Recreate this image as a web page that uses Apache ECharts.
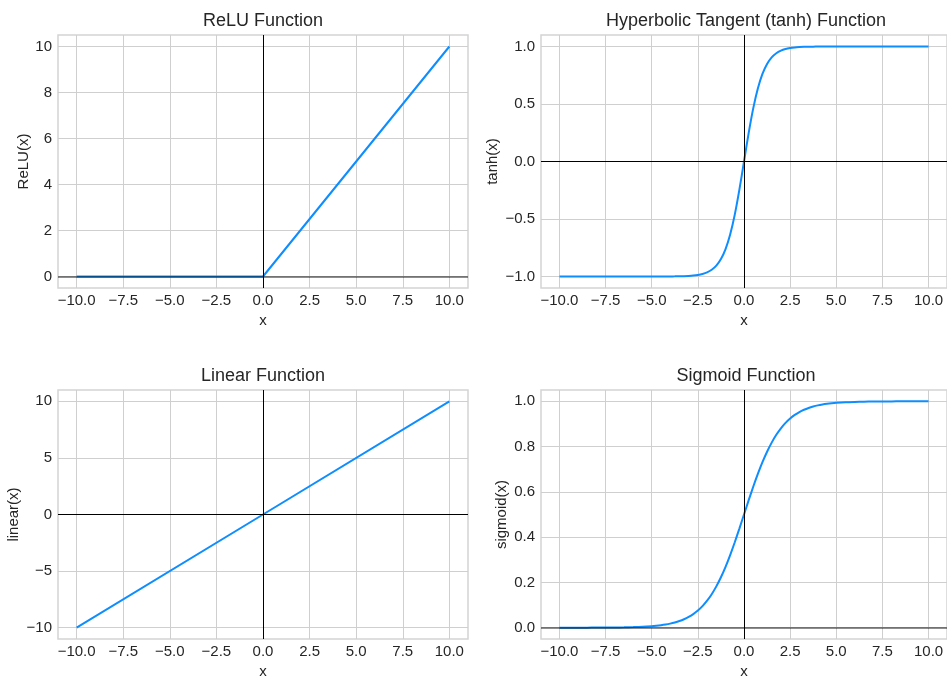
<!DOCTYPE html>
<html>
<head>
<meta charset="utf-8">
<title>Activation Functions</title>
<script src="https://cdn.jsdelivr.net/npm/echarts@6/dist/echarts.min.js"></script>
<style>
  html, body { margin: 0; padding: 0; background: #fff; }
  #main { width: 947px; height: 680px; }
</style>
</head>
<body>
<div id="main"></div>
<script>
// x positions and values
var lineX = [-10, 0, 10];
var reluY = [0, 0, 10];
var linearY = [-10, 0, 10];

var curveX = [-10, -9.5, -9, -8.5, -8, -7.5, -7, -6.5, -6, -5.5, -5,
    -4.75, -4.5, -4.25, -4, -3.75, -3.5, -3.25, -3, -2.75, -2.5, -2.25, -2, -1.75, -1.5, -1.25, -1, -0.75, -0.5, -0.25,
    0,
    0.25, 0.5, 0.75, 1, 1.25, 1.5, 1.75, 2, 2.25, 2.5, 2.75, 3, 3.25, 3.5, 3.75, 4, 4.25, 4.5, 4.75,
    5, 5.5, 6, 6.5, 7, 7.5, 8, 8.5, 9, 9.5, 10];
var tanhY = [-1, -1, -1, -1, -1, -1, -1, -1, -1, -1, -0.9999,
    -0.9999, -0.9998, -0.9996, -0.9993, -0.9989, -0.9982, -0.997, -0.995, -0.9919, -0.9866, -0.978, -0.964, -0.9414, -0.9052, -0.8483, -0.7616, -0.6351, -0.4621, -0.2449,
    0,
    0.2449, 0.4621, 0.6351, 0.7616, 0.8483, 0.9052, 0.9414, 0.964, 0.978, 0.9866, 0.9919, 0.995, 0.997, 0.9982, 0.9989, 0.9993, 0.9996, 0.9998, 0.9999,
    0.9999, 1, 1, 1, 1, 1, 1, 1, 1, 1, 1];
var sigmoidY = [0.00005, 0.00007, 0.00012, 0.0002, 0.00034, 0.00055, 0.00091, 0.0015, 0.00247, 0.00407, 0.00669,
    0.0086, 0.011, 0.0141, 0.018, 0.023, 0.0293, 0.0373, 0.0474, 0.0601, 0.0759, 0.0953, 0.1192, 0.148, 0.1824, 0.2227, 0.2689, 0.3208, 0.3775, 0.4378,
    0.5,
    0.5622, 0.6225, 0.6792, 0.7311, 0.7773, 0.8176, 0.852, 0.8808, 0.9047, 0.9241, 0.9399, 0.9526, 0.9627, 0.9707, 0.977, 0.982, 0.9859, 0.989, 0.9914,
    0.9933, 0.9959, 0.9975, 0.9985, 0.9991, 0.9994, 0.9997, 0.9998, 0.9999, 0.9999, 1];

// tick values
var xTicks = [-10, -7.5, -5, -2.5, 0, 2.5, 5, 7.5, 10];
var reluTicks = [0, 2, 4, 6, 8, 10];
var tanhTicks = [-1, -0.5, 0, 0.5, 1];
var linearTicks = [-10, -5, 0, 5, 10];
var sigmoidTicks = [0, 0.2, 0.4, 0.6, 0.8, 1];

var titles = ['ReLU Function', 'Hyperbolic Tangent (tanh) Function', 'Linear Function', 'Sigmoid Function'];
var yNames = ['ReLU(x)', 'tanh(x)', 'linear(x)', 'sigmoid(x)'];

var FONT = 'Liberation Sans';
var TEXT = '#262626';
var BLUE = '#0d8dff';
var GRIDC = '#cfcfcf';

var grids = [
    {left: 58, top: 35, width: 410, height: 253},
    {left: 541, top: 35, width: 406, height: 253},
    {left: 58, top: 390, width: 410, height: 253},
    {left: 541, top: 390, width: 406, height: 253}
];

function fmt(decimals) {
    return function (v) {
        return Number(v).toFixed(decimals).replace('-', '\u2212');
    };
}

function pairs(xs, ys) {
    return xs.map(function (x, i) { return [x, ys[i]]; });
}

function makeX(idx) {
    return {
        type: 'value', gridIndex: idx, min: -11, max: 11,
        name: 'x', nameLocation: 'middle', nameGap: 25,
        nameTextStyle: {fontFamily: FONT, fontSize: 15, color: TEXT},
        axisLine: {show: false},
        axisTick: {show: false, customValues: xTicks},
        axisLabel: {customValues: xTicks, formatter: fmt(1), fontFamily: FONT, fontSize: 15, color: TEXT, margin: 5},
        splitLine: {show: true, lineStyle: {color: GRIDC, width: 1}}
    };
}

function makeY(idx, min, max, ticks, decimals, gap) {
    return {
        type: 'value', gridIndex: idx, min: min, max: max,
        name: yNames[idx], nameLocation: 'middle', nameGap: gap,
        nameTextStyle: {fontFamily: FONT, fontSize: 15, color: TEXT},
        axisLine: {show: false},
        axisTick: {show: false, customValues: ticks},
        axisLabel: {customValues: ticks, formatter: fmt(decimals), fontFamily: FONT, fontSize: 15, color: TEXT, margin: 6},
        splitLine: {show: true, lineStyle: {color: GRIDC, width: 1}}
    };
}

// zero lines drawn as markLine over the curve
function zeroLines(hOpacity, hWidth) {
    return {
        silent: true, symbol: ['none', 'none'], animation: false,
        label: {show: false},
        emphasis: {disabled: true},
        data: [
            {yAxis: 0, lineStyle: {color: '#000', type: 'solid', width: hWidth, opacity: hOpacity}},
            {xAxis: 0, lineStyle: {color: '#000', type: 'solid', width: 1, opacity: 1}}
        ]
    };
}

function makeSeries(idx, data, smooth, hOpacity, hWidth) {
    return {
        type: 'line', xAxisIndex: idx, yAxisIndex: idx,
        data: data, showSymbol: false, smooth: smooth,
        lineStyle: {color: BLUE, width: 2},
        markLine: zeroLines(hOpacity, hWidth)
    };
}

var chart = echarts.init(document.getElementById('main'));

var option = {
    animation: false,
    backgroundColor: '#fff',
    title: titles.map(function (t, i) {
        return {
            text: t, padding: 0, textAlign: 'center',
            left: grids[i].left + (i % 2 === 1 ? 205 : grids[i].width / 2),
            top: grids[i].top - 23,
            textStyle: {fontFamily: FONT, fontSize: 18, fontWeight: 'normal', color: TEXT}
        };
    }),
    grid: grids.map(function (g) {
        return {left: g.left, top: g.top, width: g.width, height: g.height,
            show: true, borderColor: '#d4d4d4', borderWidth: 1.5, backgroundColor: 'transparent'};
    }),
    xAxis: [makeX(0), makeX(1), makeX(2), makeX(3)],
    yAxis: [
        makeY(0, -0.5, 10.5, reluTicks, 0, 27),
        makeY(1, -1.1, 1.1, tanhTicks, 1, 41),
        makeY(2, -11, 11, linearTicks, 0, 37),
        makeY(3, -0.05, 1.05, sigmoidTicks, 1, 32)
    ],
    series: [
        makeSeries(0, pairs(lineX, reluY), false, 0.6, 1.5),
        makeSeries(1, pairs(curveX, tanhY), 0.3, 1, 1),
        makeSeries(2, pairs(lineX, linearY), false, 1, 1),
        makeSeries(3, pairs(curveX, sigmoidY), 0.3, 0.6, 1.5)
    ]
};

chart.setOption(option);
</script>
</body>
</html>
